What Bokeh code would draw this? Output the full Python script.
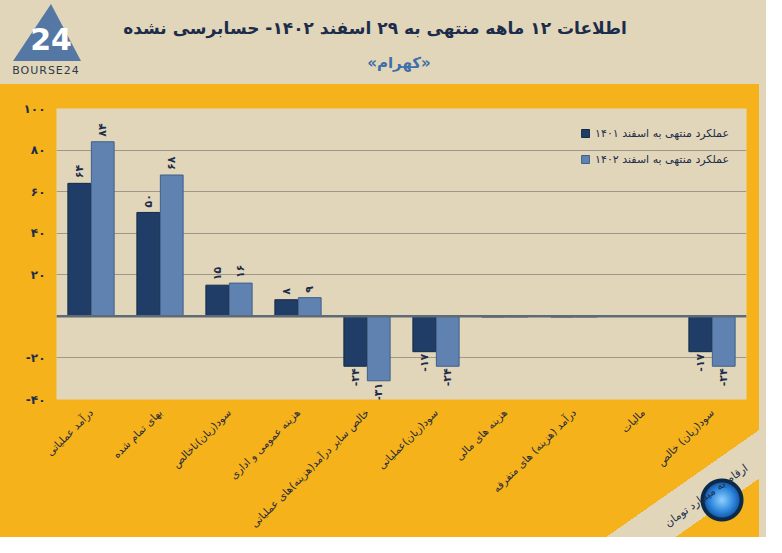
import math
from bokeh.plotting import figure
from bokeh.models import (ColumnDataSource, FactorRange, Range1d, Legend, LegendItem,
                          FixedTicker, Span, Div)
from bokeh.transform import dodge
from bokeh.layouts import column
from bokeh.embed import file_html
from bokeh.resources import INLINE
from bokeh.core.properties import value, field

# ---------------- data ----------------
categories = [
    "درآمد عملیاتی",
    "بهای تمام شده",
    "سود(زیان)ناخالص",
    "هزینه عمومی و اداری",
    "خالص سایر درآمد(هزینه)های عملیاتی",
    "سود(زیان)عملیاتی",
    "هزینه های مالی",
    "درآمد (هزینه) های متفرقه",
    "مالیات",
    "سود(زیان) خالص",
]
vals_1401 = [64, 50, 15, 8, -24, -17, -0.3, -0.3, 0, -17]
vals_1402 = [84, 68, 16, 9, -31, -24, -0.3, -0.3, 0, -24]
series_names = ["عملکرد منتهی به اسفند ۱۴۰۱", "عملکرد منتهی به اسفند ۱۴۰۲"]
y_ticks = [-40, -20, 0, 20, 40, 60, 80, 100]
title_text = "اطلاعات ۱۲ ماهه منتهی به ۲۹ اسفند ۱۴۰۲- حسابرسی نشده"
subtitle_text = "«کهرام»"
unit_text = "ارقام به میلیارد تومان"
brand_text = "BOURSE24"

# ---------------- style ----------------
BEIGE = "#e2d6ba"
ORANGE = "#f6b21b"
DARK = "#1f3d66"
LIGHT = "#6082b0"
NAVY_TXT = "#1b2d4a"
FONT = "DejaVu Sans"

FA = str.maketrans("0123456789", "۰۱۲۳۴۵۶۷۸۹")


def fa(n):
    return str(n).translate(FA)


# ---------------- header (HTML band) ----------------
W = 766
H_TOP = 84
header_html = f"""
<div style="position:relative;width:{W}px;height:{H_TOP}px;background:{BEIGE};overflow:hidden;
            font-family:'{FONT}',sans-serif;">
  <svg width="90" height="84" style="position:absolute;left:0;top:0">
    <polygon points="13,61 81,61 51,4" fill="#5577a3"/>
    <text x="51" y="50" fill="white" font-family="{FONT}" font-size="30" font-weight="bold"
          text-anchor="middle">24</text>
    <text x="46" y="74" fill="#2c3a4c" font-family="{FONT}" font-size="11"
          text-anchor="middle" letter-spacing="1">{brand_text}</text>
  </svg>
  <div style="position:absolute;left:0;top:16px;width:750px;text-align:center;direction:rtl;
              font-size:17px;font-weight:bold;color:{NAVY_TXT};white-space:nowrap">{title_text}</div>
  <div style="position:absolute;left:299px;top:53px;width:200px;text-align:center;direction:rtl;
              font-size:15px;font-weight:bold;color:#3d6fa8;white-space:nowrap">{subtitle_text}</div>
</div>
"""
head = Div(text=header_html, width=W, height=H_TOP, margin=0)

# ---------------- main chart ----------------
# orange surround with the beige corner band, right strip and round badge (CSS background)
surround_css = (
    "radial-gradient(circle at 722px 416px, #8fd0ff 0, #2d86dc 12px, #1a5fb0 17px, "
    "#0b2a4a 18px 21px, transparent 22px), "
    f"linear-gradient(145deg, transparent 88.7%, {BEIGE} 88.7%, {BEIGE} 93.6%, "
    "transparent 93.6%), "
    f"linear-gradient(90deg, transparent 759px, {BEIGE} 759px), {ORANGE}"
)
p = figure(width=W, height=537 - H_TOP, x_range=FactorRange(factors=categories),
           y_range=Range1d(-40, 100), output_backend="svg", toolbar_location=None,
           min_border_left=56, min_border_right=20, min_border_top=24, min_border_bottom=137,
           styles={"background": surround_css})
p.background_fill_color = BEIGE
p.border_fill_color = ORANGE
p.border_fill_alpha = 0
p.outline_line_color = None
p.xgrid.grid_line_color = None
p.ygrid.grid_line_color = "#9d988a"
p.ygrid.grid_line_width = 1

src = ColumnDataSource(dict(cat=categories, v1=vals_1401, v2=vals_1402))
r1 = p.vbar(x=dodge("cat", -0.17, range=p.x_range), top="v1", bottom=0, width=0.33,
            source=src, fill_color=DARK, line_color="#122a48", line_width=1)
r2 = p.vbar(x=dodge("cat", 0.17, range=p.x_range), top="v2", bottom=0, width=0.33,
            source=src, fill_color=LIGHT, line_color="#3f5f8a", line_width=1)

p.add_layout(Span(location=0, dimension="width", line_color="#5e6a75", line_width=2.5))

for vals, off in ((vals_1401, -0.17), (vals_1402, 0.17)):
    cats, ys, txt, al, yo = [], [], [], [], []
    for c, v in zip(categories, vals):
        if abs(v) >= 1:
            cats.append(c)
            ys.append(v)
            txt.append(fa(v))
            al.append("left" if v > 0 else "right")
            yo.append(-5 if v > 0 else 2)
    ls = ColumnDataSource(dict(cat=cats, y=ys, t=txt, al=al, yo=yo))
    p.text(x=dodge("cat", off, range=p.x_range), y="y", text="t", source=ls,
           angle=math.pi / 2, text_align=field("al"), text_baseline="middle",
           y_offset="yo", text_color=NAVY_TXT, text_font=value(FONT),
           text_font_size="11px", text_font_style="bold")

# axes
p.yaxis.ticker = FixedTicker(ticks=y_ticks)
p.yaxis.major_label_overrides = {t: ("" if t == 0 else fa(t)) for t in y_ticks}
p.yaxis.axis_line_color = None
p.yaxis.major_tick_line_color = None
p.yaxis.minor_tick_line_color = None
p.yaxis.major_label_text_font = FONT
p.yaxis.major_label_text_font_size = "12px"
p.yaxis.major_label_text_font_style = "bold"
p.yaxis.major_label_text_color = NAVY_TXT
p.yaxis.major_label_standoff = 5

xa = p.xaxis[0]
xa.axis_line_color = None
xa.major_tick_line_color = None
xa.major_label_orientation = math.pi / 4
xa.major_label_text_font = FONT
xa.major_label_text_font_size = "10.5px"
xa.major_label_text_color = "#1f2a3a"
xa.major_label_standoff = 5

# unit note: carried by the x axis' own label, rotated into the bottom-right corner
xa.axis_label = unit_text
xa.axis_label_text_font = FONT
xa.axis_label_text_font_size = "11px"
xa.axis_label_text_font_style = "normal"
xa.axis_label_text_color = NAVY_TXT
xa.axis_label_orientation = 0.62
for a in ("end", "right"):
    try:
        xa.axis_label_align = a
        break
    except Exception:
        pass
xa.axis_label_standoff = -70

legend = Legend(items=[LegendItem(label=series_names[0], renderers=[r1]),
                       LegendItem(label=series_names[1], renderers=[r2])],
                location="top_right")
legend.background_fill_alpha = 0
legend.border_line_alpha = 0
legend.label_text_font = FONT
legend.label_text_font_size = "11px"
legend.label_text_color = NAVY_TXT
legend.glyph_width = 10
legend.glyph_height = 10
legend.label_height = 16
legend.spacing = 10
legend.margin = 13
legend.padding = 4
p.add_layout(legend)

layout = column(head, p, spacing=0)
open("out.html", "w").write(file_html(layout, INLINE))
